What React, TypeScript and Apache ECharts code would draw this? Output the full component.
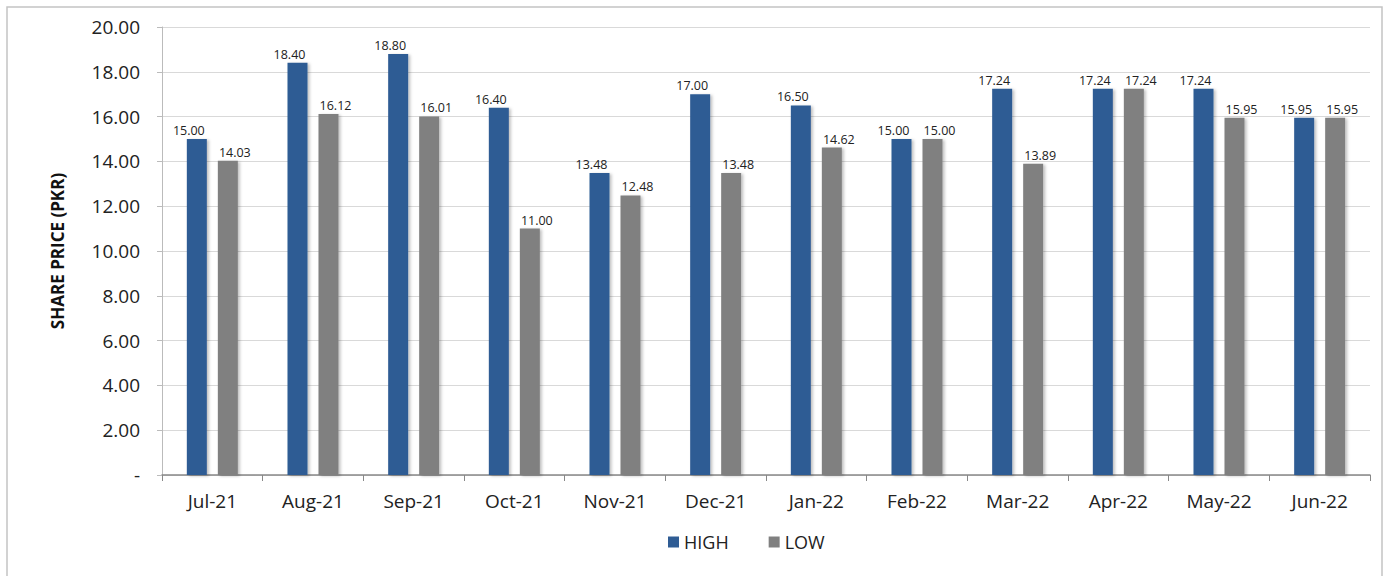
import React, { useEffect, useRef } from "react";
import * as echarts from "echarts";

const categories = ["Jul-21", "Aug-21", "Sep-21", "Oct-21", "Nov-21", "Dec-21", "Jan-22", "Feb-22", "Mar-22", "Apr-22", "May-22", "Jun-22"];
const highValues = [15.0, 18.4, 18.8, 16.4, 13.48, 17.0, 16.5, 15.0, 17.24, 17.24, 17.24, 15.95];
const lowValues = [14.03, 16.12, 16.01, 11.0, 12.48, 13.48, 14.62, 15.0, 13.89, 17.24, 15.95, 15.95];
const seriesNames = ["HIGH", "LOW"];
const yAxisTitle = "SHARE PRICE (PKR)";

const FONT = "'Open Sans', 'Noto Sans', sans-serif";

export default function App() {
  const ref = useRef<HTMLDivElement>(null);
  useEffect(() => {
    document.body.style.margin = "0";
    const chart = echarts.init(ref.current!, null, { renderer: "svg" });
    const labelCfg = (dx: number) => ({
      show: true,
      position: "top" as const,
      distance: 2,
      offset: [dx, 0],
      fontSize: 12.5,
      fontFamily: FONT,
      color: "#222",
      formatter: (p: any) => Number(p.value).toFixed(2),
    });
    chart.setOption({
      animation: false,
      backgroundColor: "#fff",
      textStyle: { fontFamily: FONT },
      graphic: [
        {
          type: "rect",
          shape: { x: 7, y: 7, width: 1375, height: 600 },
          style: { fill: "none", stroke: "#c4c4c4", lineWidth: 1.5 },
          silent: true,
        },
      ],
      grid: { left: 162, right: 14, top: 27, bottom: 101 },
      legend: {
        top: 528,
        left: 663,
        itemWidth: 11,
        itemHeight: 11,
        itemGap: 40,
        icon: "rect",
        textStyle: { fontSize: 18, color: "#222", fontFamily: FONT },
        data: seriesNames,
      },
      xAxis: {
        type: "category",
        data: categories,
        axisLine: { lineStyle: { color: "#888", width: 1.5 } },
        axisTick: { show: true, alignWithLabel: false, length: 6, lineStyle: { color: "#888" } },
        axisLabel: { fontSize: 19, color: "#222", margin: 16, fontFamily: FONT },
        splitLine: { show: false },
      },
      yAxis: {
        type: "value",
        min: 0,
        max: 20,
        interval: 2,
        name: yAxisTitle,
        nameLocation: "middle",
        nameGap: 96,
        nameTextStyle: { fontSize: 17, fontWeight: "bold", color: "#111", fontFamily: FONT },
        axisLine: { show: true, lineStyle: { color: "#bbb" } },
        axisTick: { show: true, length: 5, lineStyle: { color: "#bbb" } },
        axisLabel: {
          fontSize: 19,
          color: "#222",
          margin: 22,
          fontFamily: FONT,
          formatter: (v: number) => (v === 0 ? "-" : v.toFixed(2)),
        },
        splitLine: { lineStyle: { color: "#d9d9d9" } },
      },
      series: [
        {
          name: seriesNames[0],
          type: "bar",
          data: highValues,
          barWidth: 20,
          barGap: "55%",
          itemStyle: { color: "#2F5C94", shadowColor: "rgba(0,0,0,0.25)", shadowBlur: 3, shadowOffsetX: 2, shadowOffsetY: 1 },
          label: labelCfg(-8),
        },
        {
          name: seriesNames[1],
          type: "bar",
          data: lowValues,
          barWidth: 20,
          itemStyle: { color: "#808080", shadowColor: "rgba(0,0,0,0.25)", shadowBlur: 3, shadowOffsetX: 2, shadowOffsetY: 1 },
          label: labelCfg(7),
        },
      ],
    });
    return () => chart.dispose();
  }, []);
  return <div ref={ref} style={{ width: 1384, height: 576 }} />;
}
